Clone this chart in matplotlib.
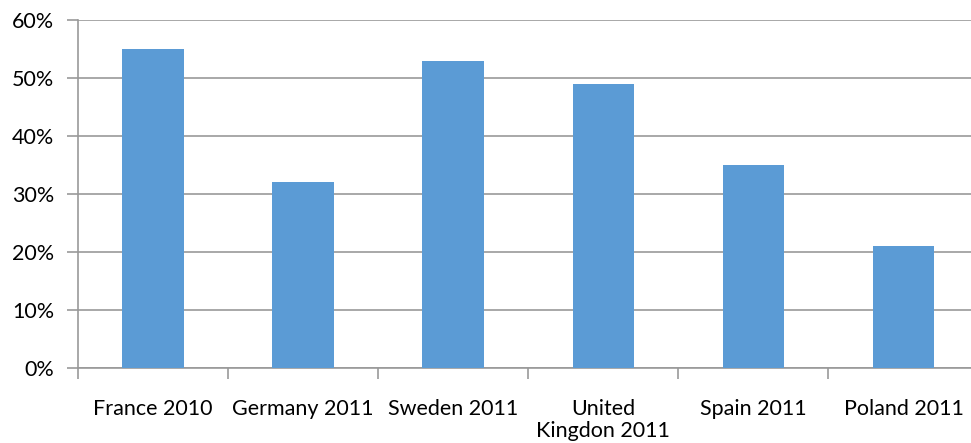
import matplotlib
matplotlib.use("Agg")
import matplotlib.pyplot as plt
from matplotlib.ticker import FuncFormatter, FixedLocator

categories = ["France 2010", "Germany 2011", "Sweden 2011", "United\nKingdon 2011", "Spain 2011", "Poland 2011"]
values = [55, 32, 53, 49, 35, 21]
y_ticks = [0, 10, 20, 30, 40, 50, 60]

plt.rcParams["font.family"] = ["Lato", "DejaVu Sans"]

fig = plt.figure(figsize=(9.71, 4.43), dpi=100)
ax = fig.add_axes([78 / 971, (443 - 368) / 443, 1 - 78 / 971, (368 - 20) / 443])

x = list(range(len(categories)))
ax.bar(x, values, width=0.41, color="#5B9BD5", zorder=3)

ax.set_xlim(-0.5, 5.45)
ax.set_ylim(0, 60)
ax.set_yticks(y_ticks)
ax.yaxis.set_major_formatter(FuncFormatter(lambda v, p: f"{v:.0f}%"))
ax.grid(axis="y", color="#999999", linewidth=1.2, zorder=0)

ax.set_xticks(x)
ax.set_xticklabels(categories, fontsize=15.5, linespacing=1.15)
ax.xaxis.set_minor_locator(FixedLocator([i - 0.5 for i in range(len(categories) + 1)]))
ax.tick_params(axis="x", which="major", length=0, pad=22)
ax.tick_params(axis="x", which="minor", length=8, width=1.2, color="#999999", direction="out")
ax.tick_params(axis="y", length=8, width=1.2, color="#999999", labelsize=15.5, pad=9)

for s in ["top", "right"]:
    ax.spines[s].set_visible(False)
for s in ["left", "bottom"]:
    ax.spines[s].set_color("#999999")
    ax.spines[s].set_linewidth(1.2)

fig.savefig("out.png", dpi=100)
